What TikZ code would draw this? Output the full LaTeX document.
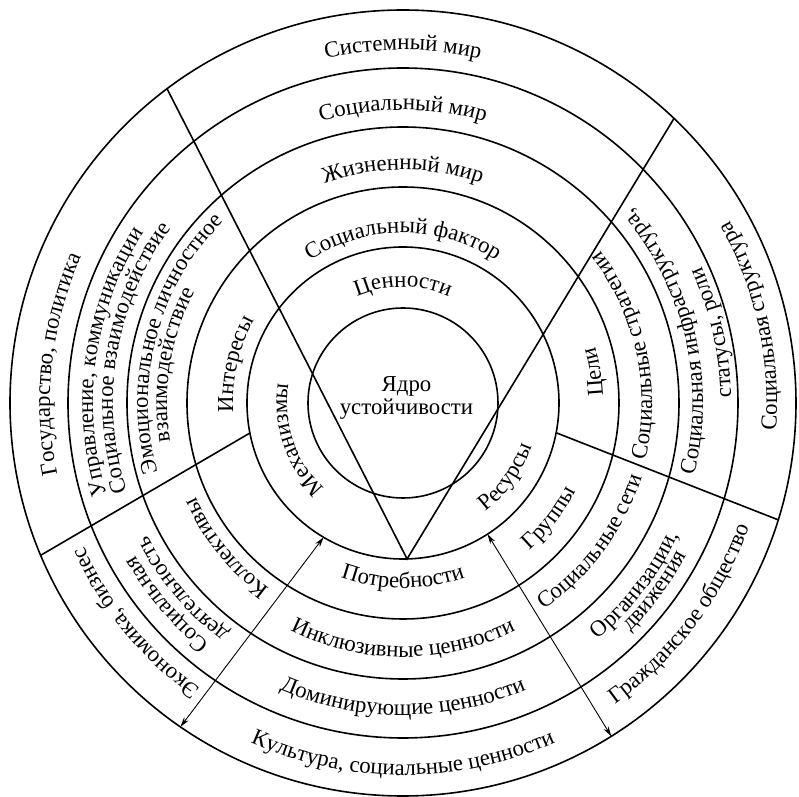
\documentclass[tikz,border=0pt]{standalone}
\usepackage{fontspec}
\setmainfont{Liberation Serif}
\usetikzlibrary{arrows.meta}
\usetikzlibrary{decorations.text}
\usetikzlibrary{positioning}

\newcommand{\lblfont}{\fontsize{11.4pt}{13pt}\selectfont}
% text running clockwise (tops outwards) and anticlockwise (tops inwards)
\newcommand{\cwlabel}[3]{%
  \path[decorate,decoration={text along path,text align=center,
    text={|\lblfont|#3}}] (#1+80:#2) arc[start angle=#1+80,end angle=#1-80,radius=#2];}
\newcommand{\ccwlabel}[3]{%
  \path[decorate,decoration={text along path,text align=center,
    text={|\lblfont|#3}}] (#1-80:#2) arc[start angle=#1-80,end angle=#1+80,radius=#2];}

\tikzset{
  ring/.style={line width=0.8pt},
  divider/.style={line width=0.8pt},
  span/.style={line width=0.45pt,
    {Stealth[length=5pt,width=2.8pt]}-{Stealth[length=5pt,width=2.8pt]}}
}

\begin{document}
\begin{tikzpicture}[x=0.5pt,y=0.5pt]
   \useasboundingbox (-403,-394) rectangle (396,403);

   \draw[ring] (0,0) circle[radius=95];
   \draw[ring] (0,0) circle[radius=156];
   \draw[ring] (0,0) circle[radius=216];
   \draw[ring] (0,0) circle[radius=276];
   \draw[ring] (0,0) circle[radius=335];
   \draw[ring] (0,0) circle[radius=393];

   \coordinate (tip) at (271.5:156);
   \coordinate (vl) at (126.9:393);
   \coordinate (vr) at (46.4:393);
   \coordinate (ll0) at (191.1:156);
   \coordinate (ll1) at (202.8:393);
   \coordinate (lr0) at (-11:156);
   \coordinate (lr1) at (-17.3:393);
   \coordinate (al0) at (239.4:156);
   \coordinate (al1) at (235.5:393);
   \coordinate (ar0) at (-57.2:156);
   \coordinate (ar1) at (-58:393);

   \draw[divider] (vl) -- (tip) -- (vr);
   \draw[divider] (ll0) -- (ll1);
   \draw[divider] (lr0) -- (lr1);
   \draw[span] (al0) -- (al1);
   \draw[span] (ar0) -- (ar1);

   \node[font=\lblfont, align=center, inner sep=0pt] (core) at (3.5,5.5) {Ядро\\[-1.5pt]устойчивости};

   \cwlabel{90}{116}{Ценности}
   \cwlabel{90}{170}{Социальный фактор}
   \cwlabel{90}{233}{Жизненный мир}
   \cwlabel{90}{293}{Социальный мир}
   \cwlabel{90}{353}{Системный мир}
   \cwlabel{173.6}{353}{Государство, политика}
   \cwlabel{171.9}{310}{Управление, коммуникации}
   \cwlabel{170.4}{290}{Социальное взаимодействие}
   \cwlabel{165.2}{255}{Эмоциональное личностное}
   \cwlabel{170.6}{236}{взаимодействие}
   \cwlabel{167}{170}{Интересы}
   \cwlabel{199}{116}{Механизмы}
   \cwlabel{219.3}{228}{Коллективы}
   \cwlabel{220.4}{308}{Социальная}
   \cwlabel{220.2}{288}{деятельность}
   \cwlabel{219.4}{350}{Экономика, бизнес}

   \ccwlabel{270}{185}{Потребности}
   \ccwlabel{270}{254}{Инклюзивные ценности}
   \ccwlabel{270}{312}{Доминирующие ценности}
   \ccwlabel{270}{372}{Культура, социальные ценности}
   \ccwlabel{9.2}{200}{Цели}
   \ccwlabel{12.2}{249}{Социальные стратегии}
   \ccwlabel{13.2}{300}{Социальная инфраструктура,}
   \ccwlabel{12.8}{328}{статусы, роли}
   \ccwlabel{12.5}{374}{Социальная структура}
   \ccwlabel{-35.7}{136}{Ресурсы}
   \ccwlabel{-38.2}{194}{Группы}
   \ccwlabel{-36.5}{250}{Социальные сети}
   \ccwlabel{-38}{306}{Организации,}
   \ccwlabel{-36.7}{322}{движения}
   \ccwlabel{-37.3}{368}{Гражданское общество}
\end{tikzpicture}
\end{document}
